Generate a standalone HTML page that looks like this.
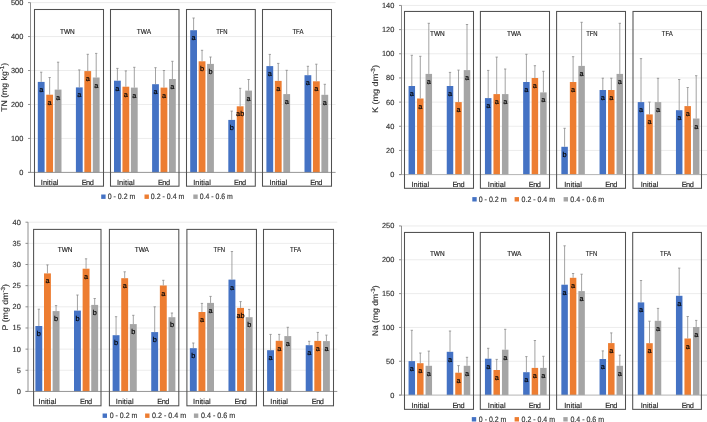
<!DOCTYPE html>
<html><head><meta charset="utf-8"><style>
html,body{margin:0;padding:0;background:#fff;}
body{width:707px;height:422px;overflow:hidden;}
svg{display:block;font-family:"Liberation Sans", sans-serif;will-change:transform;text-rendering:geometricPrecision;}
</style></head><body>
<svg width="707" height="422" viewBox="0 0 707 422">
<rect width="707" height="422" fill="#fff"/>
<line x1="30.5" y1="138.44" x2="335.6" y2="138.44" stroke="#E6E6E6" stroke-width="0.75"/>
<line x1="30.5" y1="104.48" x2="335.6" y2="104.48" stroke="#E6E6E6" stroke-width="0.75"/>
<line x1="30.5" y1="70.52" x2="335.6" y2="70.52" stroke="#E6E6E6" stroke-width="0.75"/>
<line x1="30.5" y1="36.56" x2="335.6" y2="36.56" stroke="#E6E6E6" stroke-width="0.75"/>
<line x1="30.5" y1="2.6" x2="335.6" y2="2.6" stroke="#E6E6E6" stroke-width="0.75"/>
<rect x="37.8" y="81.9" width="6.8" height="90.5" fill="#4472C4"/>
<rect x="46.25" y="94.7" width="6.8" height="77.7" fill="#ED7D31"/>
<rect x="54.7" y="89.6" width="6.8" height="82.8" fill="#A5A5A5"/>
<rect x="75.9" y="87.4" width="6.8" height="85" fill="#4472C4"/>
<rect x="84.35" y="71.1" width="6.8" height="101.3" fill="#ED7D31"/>
<rect x="92.8" y="77.5" width="6.8" height="94.9" fill="#A5A5A5"/>
<rect x="114" y="80.7" width="6.8" height="91.7" fill="#4472C4"/>
<rect x="122.45" y="86.7" width="6.8" height="85.7" fill="#ED7D31"/>
<rect x="130.9" y="87.6" width="6.8" height="84.8" fill="#A5A5A5"/>
<rect x="152.1" y="84.2" width="6.8" height="88.2" fill="#4472C4"/>
<rect x="160.55" y="87.6" width="6.8" height="84.8" fill="#ED7D31"/>
<rect x="169" y="79" width="6.8" height="93.4" fill="#A5A5A5"/>
<rect x="190.2" y="30.2" width="6.8" height="142.2" fill="#4472C4"/>
<rect x="198.65" y="61.3" width="6.8" height="111.1" fill="#ED7D31"/>
<rect x="207.1" y="63.9" width="6.8" height="108.5" fill="#A5A5A5"/>
<rect x="228.3" y="119.9" width="6.8" height="52.5" fill="#4472C4"/>
<rect x="236.75" y="106.3" width="6.8" height="66.1" fill="#ED7D31"/>
<rect x="245.2" y="90.6" width="6.8" height="81.8" fill="#A5A5A5"/>
<rect x="266.4" y="66.1" width="6.8" height="106.3" fill="#4472C4"/>
<rect x="274.85" y="80.9" width="6.8" height="91.5" fill="#ED7D31"/>
<rect x="283.3" y="94.1" width="6.8" height="78.3" fill="#A5A5A5"/>
<rect x="304.5" y="75.2" width="6.8" height="97.2" fill="#4472C4"/>
<rect x="312.95" y="81.3" width="6.8" height="91.1" fill="#ED7D31"/>
<rect x="321.4" y="94.8" width="6.8" height="77.6" fill="#A5A5A5"/>
<line x1="41.2" y1="72.2" x2="41.2" y2="81.9" stroke="#8C8C8C" stroke-width="0.8"/>
<line x1="40.05" y1="72.2" x2="42.35" y2="72.2" stroke="#8C8C8C" stroke-width="0.8"/>
<text x="41.2" y="91.9" font-size="7.3" fill="#000000" stroke="#000000" stroke-width="0.18" text-anchor="middle">a</text>
<line x1="49.65" y1="77.5" x2="49.65" y2="94.7" stroke="#8C8C8C" stroke-width="0.8"/>
<line x1="48.5" y1="77.5" x2="50.8" y2="77.5" stroke="#8C8C8C" stroke-width="0.8"/>
<text x="49.65" y="104.7" font-size="7.3" fill="#000000" stroke="#000000" stroke-width="0.18" text-anchor="middle">a</text>
<line x1="58.1" y1="62.2" x2="58.1" y2="89.6" stroke="#8C8C8C" stroke-width="0.8"/>
<line x1="56.95" y1="62.2" x2="59.25" y2="62.2" stroke="#8C8C8C" stroke-width="0.8"/>
<text x="58.1" y="99.6" font-size="7.3" fill="#000000" stroke="#000000" stroke-width="0.18" text-anchor="middle">a</text>
<line x1="79.3" y1="69.9" x2="79.3" y2="87.4" stroke="#8C8C8C" stroke-width="0.8"/>
<line x1="78.15" y1="69.9" x2="80.45" y2="69.9" stroke="#8C8C8C" stroke-width="0.8"/>
<text x="79.3" y="97.4" font-size="7.3" fill="#000000" stroke="#000000" stroke-width="0.18" text-anchor="middle">a</text>
<line x1="87.75" y1="54.3" x2="87.75" y2="71.1" stroke="#8C8C8C" stroke-width="0.8"/>
<line x1="86.6" y1="54.3" x2="88.9" y2="54.3" stroke="#8C8C8C" stroke-width="0.8"/>
<text x="87.75" y="81.1" font-size="7.3" fill="#000000" stroke="#000000" stroke-width="0.18" text-anchor="middle">a</text>
<line x1="96.2" y1="53.4" x2="96.2" y2="77.5" stroke="#8C8C8C" stroke-width="0.8"/>
<line x1="95.05" y1="53.4" x2="97.35" y2="53.4" stroke="#8C8C8C" stroke-width="0.8"/>
<text x="96.2" y="87.5" font-size="7.3" fill="#000000" stroke="#000000" stroke-width="0.18" text-anchor="middle">a</text>
<line x1="117.4" y1="68.4" x2="117.4" y2="80.7" stroke="#8C8C8C" stroke-width="0.8"/>
<line x1="116.25" y1="68.4" x2="118.55" y2="68.4" stroke="#8C8C8C" stroke-width="0.8"/>
<text x="117.4" y="90.7" font-size="7.3" fill="#000000" stroke="#000000" stroke-width="0.18" text-anchor="middle">a</text>
<line x1="125.85" y1="70.9" x2="125.85" y2="86.7" stroke="#8C8C8C" stroke-width="0.8"/>
<line x1="124.7" y1="70.9" x2="127" y2="70.9" stroke="#8C8C8C" stroke-width="0.8"/>
<text x="125.85" y="96.7" font-size="7.3" fill="#000000" stroke="#000000" stroke-width="0.18" text-anchor="middle">a</text>
<line x1="134.3" y1="67.3" x2="134.3" y2="87.6" stroke="#8C8C8C" stroke-width="0.8"/>
<line x1="133.15" y1="67.3" x2="135.45" y2="67.3" stroke="#8C8C8C" stroke-width="0.8"/>
<text x="134.3" y="97.6" font-size="7.3" fill="#000000" stroke="#000000" stroke-width="0.18" text-anchor="middle">a</text>
<line x1="155.5" y1="67.7" x2="155.5" y2="84.2" stroke="#8C8C8C" stroke-width="0.8"/>
<line x1="154.35" y1="67.7" x2="156.65" y2="67.7" stroke="#8C8C8C" stroke-width="0.8"/>
<text x="155.5" y="94.2" font-size="7.3" fill="#000000" stroke="#000000" stroke-width="0.18" text-anchor="middle">a</text>
<line x1="163.95" y1="70.5" x2="163.95" y2="87.6" stroke="#8C8C8C" stroke-width="0.8"/>
<line x1="162.8" y1="70.5" x2="165.1" y2="70.5" stroke="#8C8C8C" stroke-width="0.8"/>
<text x="163.95" y="97.6" font-size="7.3" fill="#000000" stroke="#000000" stroke-width="0.18" text-anchor="middle">a</text>
<line x1="172.4" y1="61.3" x2="172.4" y2="79" stroke="#8C8C8C" stroke-width="0.8"/>
<line x1="171.25" y1="61.3" x2="173.55" y2="61.3" stroke="#8C8C8C" stroke-width="0.8"/>
<text x="172.4" y="89" font-size="7.3" fill="#000000" stroke="#000000" stroke-width="0.18" text-anchor="middle">a</text>
<line x1="193.6" y1="18" x2="193.6" y2="30.2" stroke="#8C8C8C" stroke-width="0.8"/>
<line x1="192.45" y1="18" x2="194.75" y2="18" stroke="#8C8C8C" stroke-width="0.8"/>
<text x="193.6" y="40.2" font-size="7.3" fill="#000000" stroke="#000000" stroke-width="0.18" text-anchor="middle">a</text>
<line x1="202.05" y1="50.3" x2="202.05" y2="61.3" stroke="#8C8C8C" stroke-width="0.8"/>
<line x1="200.9" y1="50.3" x2="203.2" y2="50.3" stroke="#8C8C8C" stroke-width="0.8"/>
<text x="202.05" y="71.3" font-size="7.3" fill="#000000" stroke="#000000" stroke-width="0.18" text-anchor="middle">b</text>
<line x1="210.5" y1="57" x2="210.5" y2="63.9" stroke="#8C8C8C" stroke-width="0.8"/>
<line x1="209.35" y1="57" x2="211.65" y2="57" stroke="#8C8C8C" stroke-width="0.8"/>
<text x="210.5" y="73.9" font-size="7.3" fill="#000000" stroke="#000000" stroke-width="0.18" text-anchor="middle">b</text>
<line x1="231.7" y1="111.1" x2="231.7" y2="119.9" stroke="#8C8C8C" stroke-width="0.8"/>
<line x1="230.55" y1="111.1" x2="232.85" y2="111.1" stroke="#8C8C8C" stroke-width="0.8"/>
<text x="231.7" y="129.9" font-size="7.3" fill="#000000" stroke="#000000" stroke-width="0.18" text-anchor="middle">b</text>
<line x1="240.15" y1="88.3" x2="240.15" y2="106.3" stroke="#8C8C8C" stroke-width="0.8"/>
<line x1="239" y1="88.3" x2="241.3" y2="88.3" stroke="#8C8C8C" stroke-width="0.8"/>
<text x="240.15" y="116.3" font-size="7.3" fill="#000000" stroke="#000000" stroke-width="0.18" text-anchor="middle">ab</text>
<line x1="248.6" y1="79.5" x2="248.6" y2="90.6" stroke="#8C8C8C" stroke-width="0.8"/>
<line x1="247.45" y1="79.5" x2="249.75" y2="79.5" stroke="#8C8C8C" stroke-width="0.8"/>
<text x="248.6" y="100.6" font-size="7.3" fill="#000000" stroke="#000000" stroke-width="0.18" text-anchor="middle">a</text>
<line x1="269.8" y1="54.4" x2="269.8" y2="66.1" stroke="#8C8C8C" stroke-width="0.8"/>
<line x1="268.65" y1="54.4" x2="270.95" y2="54.4" stroke="#8C8C8C" stroke-width="0.8"/>
<text x="269.8" y="76.1" font-size="7.3" fill="#000000" stroke="#000000" stroke-width="0.18" text-anchor="middle">a</text>
<line x1="278.25" y1="63.4" x2="278.25" y2="80.9" stroke="#8C8C8C" stroke-width="0.8"/>
<line x1="277.1" y1="63.4" x2="279.4" y2="63.4" stroke="#8C8C8C" stroke-width="0.8"/>
<text x="278.25" y="90.9" font-size="7.3" fill="#000000" stroke="#000000" stroke-width="0.18" text-anchor="middle">a</text>
<line x1="286.7" y1="70.3" x2="286.7" y2="94.1" stroke="#8C8C8C" stroke-width="0.8"/>
<line x1="285.55" y1="70.3" x2="287.85" y2="70.3" stroke="#8C8C8C" stroke-width="0.8"/>
<text x="286.7" y="104.1" font-size="7.3" fill="#000000" stroke="#000000" stroke-width="0.18" text-anchor="middle">a</text>
<line x1="307.9" y1="66.3" x2="307.9" y2="75.2" stroke="#8C8C8C" stroke-width="0.8"/>
<line x1="306.75" y1="66.3" x2="309.05" y2="66.3" stroke="#8C8C8C" stroke-width="0.8"/>
<text x="307.9" y="85.2" font-size="7.3" fill="#000000" stroke="#000000" stroke-width="0.18" text-anchor="middle">a</text>
<line x1="316.35" y1="64.2" x2="316.35" y2="81.3" stroke="#8C8C8C" stroke-width="0.8"/>
<line x1="315.2" y1="64.2" x2="317.5" y2="64.2" stroke="#8C8C8C" stroke-width="0.8"/>
<text x="316.35" y="91.3" font-size="7.3" fill="#000000" stroke="#000000" stroke-width="0.18" text-anchor="middle">a</text>
<line x1="324.8" y1="84.3" x2="324.8" y2="94.8" stroke="#8C8C8C" stroke-width="0.8"/>
<line x1="323.65" y1="84.3" x2="325.95" y2="84.3" stroke="#8C8C8C" stroke-width="0.8"/>
<text x="324.8" y="104.8" font-size="7.3" fill="#000000" stroke="#000000" stroke-width="0.18" text-anchor="middle">a</text>
<line x1="30.5" y1="2.6" x2="30.5" y2="172.4" stroke="#858585" stroke-width="0.9"/>
<line x1="28" y1="172.4" x2="335.6" y2="172.4" stroke="#8A8A8A" stroke-width="0.9"/>
<line x1="28" y1="172.4" x2="30.5" y2="172.4" stroke="#858585" stroke-width="0.9"/>
<text x="23.3" y="174.9" font-size="7.4" fill="#333333" stroke="#333333" stroke-width="0.15" text-anchor="end">0</text>
<line x1="28" y1="138.44" x2="30.5" y2="138.44" stroke="#858585" stroke-width="0.9"/>
<text x="23.3" y="140.94" font-size="7.4" fill="#333333" stroke="#333333" stroke-width="0.15" text-anchor="end">100</text>
<line x1="28" y1="104.48" x2="30.5" y2="104.48" stroke="#858585" stroke-width="0.9"/>
<text x="23.3" y="106.98" font-size="7.4" fill="#333333" stroke="#333333" stroke-width="0.15" text-anchor="end">200</text>
<line x1="28" y1="70.52" x2="30.5" y2="70.52" stroke="#858585" stroke-width="0.9"/>
<text x="23.3" y="73.02" font-size="7.4" fill="#333333" stroke="#333333" stroke-width="0.15" text-anchor="end">300</text>
<line x1="28" y1="36.56" x2="30.5" y2="36.56" stroke="#858585" stroke-width="0.9"/>
<text x="23.3" y="39.06" font-size="7.4" fill="#333333" stroke="#333333" stroke-width="0.15" text-anchor="end">400</text>
<line x1="28" y1="2.6" x2="30.5" y2="2.6" stroke="#858585" stroke-width="0.9"/>
<text x="23.3" y="5.1" font-size="7.4" fill="#333333" stroke="#333333" stroke-width="0.15" text-anchor="end">500</text>
<rect x="34.5" y="9.5" width="69" height="176.7" fill="none" stroke="#505050" stroke-width="1.05"/>
<text x="67.4" y="33.8" font-size="7.3" fill="#1a1a1a" stroke="#1a1a1a" stroke-width="0.15" text-anchor="middle" textLength="14.8" lengthAdjust="spacingAndGlyphs">TWN</text>
<rect x="110.5" y="9.5" width="68.5" height="176.7" fill="none" stroke="#505050" stroke-width="1.05"/>
<text x="144" y="33.8" font-size="7.3" fill="#1a1a1a" stroke="#1a1a1a" stroke-width="0.15" text-anchor="middle" textLength="14.3" lengthAdjust="spacingAndGlyphs">TWA</text>
<rect x="186.5" y="9.5" width="68.8" height="176.7" fill="none" stroke="#505050" stroke-width="1.05"/>
<text x="221.9" y="33.9" font-size="7.3" fill="#1a1a1a" stroke="#1a1a1a" stroke-width="0.15" text-anchor="middle" textLength="11.5" lengthAdjust="spacingAndGlyphs">TFN</text>
<rect x="262.5" y="9.5" width="69" height="176.7" fill="none" stroke="#505050" stroke-width="1.05"/>
<text x="297.9" y="33.9" font-size="7.3" fill="#1a1a1a" stroke="#1a1a1a" stroke-width="0.15" text-anchor="middle" textLength="11.0" lengthAdjust="spacingAndGlyphs">TFA</text>
<text x="49.65" y="185.3" font-size="7.4" fill="#262626" stroke="#262626" stroke-width="0.15" text-anchor="middle" textLength="17.7" lengthAdjust="spacing">Initial</text>
<text x="87.75" y="185.3" font-size="7.4" fill="#262626" stroke="#262626" stroke-width="0.15" text-anchor="middle" textLength="12.1" lengthAdjust="spacing">End</text>
<text x="125.85" y="185.3" font-size="7.4" fill="#262626" stroke="#262626" stroke-width="0.15" text-anchor="middle" textLength="17.7" lengthAdjust="spacing">Initial</text>
<text x="163.95" y="185.3" font-size="7.4" fill="#262626" stroke="#262626" stroke-width="0.15" text-anchor="middle" textLength="12.1" lengthAdjust="spacing">End</text>
<text x="202.05" y="185.3" font-size="7.4" fill="#262626" stroke="#262626" stroke-width="0.15" text-anchor="middle" textLength="17.7" lengthAdjust="spacing">Initial</text>
<text x="240.15" y="185.3" font-size="7.4" fill="#262626" stroke="#262626" stroke-width="0.15" text-anchor="middle" textLength="12.1" lengthAdjust="spacing">End</text>
<text x="278.25" y="185.3" font-size="7.4" fill="#262626" stroke="#262626" stroke-width="0.15" text-anchor="middle" textLength="17.7" lengthAdjust="spacing">Initial</text>
<text x="316.35" y="185.3" font-size="7.4" fill="#262626" stroke="#262626" stroke-width="0.15" text-anchor="middle" textLength="12.1" lengthAdjust="spacing">End</text>
<rect x="101.2" y="194.5" width="4.4" height="4.4" fill="#4472C4"/>
<text x="107.7" y="199.2" font-size="7.8" fill="#333333" stroke="#333333" stroke-width="0.15" textLength="27.6" lengthAdjust="spacingAndGlyphs">0 - 0.2 m</text>
<rect x="144.5" y="194.5" width="4.4" height="4.4" fill="#ED7D31"/>
<text x="150.8" y="199.2" font-size="7.8" fill="#333333" stroke="#333333" stroke-width="0.15" textLength="33.7" lengthAdjust="spacingAndGlyphs">0.2 - 0.4 m</text>
<rect x="193.3" y="194.5" width="4.4" height="4.4" fill="#A5A5A5"/>
<text x="199.8" y="199.2" font-size="7.8" fill="#333333" stroke="#333333" stroke-width="0.15" textLength="33.1" lengthAdjust="spacingAndGlyphs">0.4 - 0.6 m</text>
<text transform="translate(6.8 87.3) rotate(-90)" font-size="8.2" fill="#333333" stroke="#333333" stroke-width="0.15" text-anchor="middle" textLength="49" lengthAdjust="spacingAndGlyphs">TN (mg kg<tspan font-size="5.9" dy="-3">-1</tspan><tspan dy="3">)</tspan></text>
<line x1="401.5" y1="150.44" x2="707.5" y2="150.44" stroke="#E6E6E6" stroke-width="0.75"/>
<line x1="401.5" y1="126.27" x2="707.5" y2="126.27" stroke="#E6E6E6" stroke-width="0.75"/>
<line x1="401.5" y1="102.11" x2="707.5" y2="102.11" stroke="#E6E6E6" stroke-width="0.75"/>
<line x1="401.5" y1="77.94" x2="707.5" y2="77.94" stroke="#E6E6E6" stroke-width="0.75"/>
<line x1="401.5" y1="53.78" x2="707.5" y2="53.78" stroke="#E6E6E6" stroke-width="0.75"/>
<line x1="401.5" y1="29.61" x2="707.5" y2="29.61" stroke="#E6E6E6" stroke-width="0.75"/>
<line x1="401.5" y1="5.45" x2="707.5" y2="5.45" stroke="#E6E6E6" stroke-width="0.75"/>
<rect x="408.55" y="86" width="6.5" height="88.6" fill="#4472C4"/>
<rect x="417.05" y="98.5" width="6.5" height="76.1" fill="#ED7D31"/>
<rect x="425.55" y="73.9" width="6.5" height="100.7" fill="#A5A5A5"/>
<rect x="446.75" y="86" width="6.5" height="88.6" fill="#4472C4"/>
<rect x="455.25" y="102.1" width="6.5" height="72.5" fill="#ED7D31"/>
<rect x="463.75" y="70.1" width="6.5" height="104.5" fill="#A5A5A5"/>
<rect x="484.95" y="98.1" width="6.5" height="76.5" fill="#4472C4"/>
<rect x="493.45" y="94.1" width="6.5" height="80.5" fill="#ED7D31"/>
<rect x="501.95" y="94.1" width="6.5" height="80.5" fill="#A5A5A5"/>
<rect x="523.15" y="82" width="6.5" height="92.6" fill="#4472C4"/>
<rect x="531.65" y="78" width="6.5" height="96.6" fill="#ED7D31"/>
<rect x="540.15" y="92.4" width="6.5" height="82.2" fill="#A5A5A5"/>
<rect x="561.35" y="146.8" width="6.5" height="27.8" fill="#4472C4"/>
<rect x="569.85" y="82" width="6.5" height="92.6" fill="#ED7D31"/>
<rect x="578.35" y="65.9" width="6.5" height="108.7" fill="#A5A5A5"/>
<rect x="599.55" y="90" width="6.5" height="84.6" fill="#4472C4"/>
<rect x="608.05" y="90" width="6.5" height="84.6" fill="#ED7D31"/>
<rect x="616.55" y="73.9" width="6.5" height="100.7" fill="#A5A5A5"/>
<rect x="637.75" y="102.1" width="6.5" height="72.5" fill="#4472C4"/>
<rect x="646.25" y="114.4" width="6.5" height="60.2" fill="#ED7D31"/>
<rect x="654.75" y="102.1" width="6.5" height="72.5" fill="#A5A5A5"/>
<rect x="675.95" y="110.2" width="6.5" height="64.4" fill="#4472C4"/>
<rect x="684.45" y="106.1" width="6.5" height="68.5" fill="#ED7D31"/>
<rect x="692.95" y="118.5" width="6.5" height="56.1" fill="#A5A5A5"/>
<line x1="411.8" y1="55.3" x2="411.8" y2="86" stroke="#8C8C8C" stroke-width="0.8"/>
<line x1="410.65" y1="55.3" x2="412.95" y2="55.3" stroke="#8C8C8C" stroke-width="0.8"/>
<text x="411.8" y="96" font-size="7.3" fill="#000000" stroke="#000000" stroke-width="0.18" text-anchor="middle">a</text>
<line x1="420.3" y1="56.3" x2="420.3" y2="98.5" stroke="#8C8C8C" stroke-width="0.8"/>
<line x1="419.15" y1="56.3" x2="421.45" y2="56.3" stroke="#8C8C8C" stroke-width="0.8"/>
<text x="420.3" y="108.5" font-size="7.3" fill="#000000" stroke="#000000" stroke-width="0.18" text-anchor="middle">a</text>
<line x1="428.8" y1="23.3" x2="428.8" y2="73.9" stroke="#8C8C8C" stroke-width="0.8"/>
<line x1="427.65" y1="23.3" x2="429.95" y2="23.3" stroke="#8C8C8C" stroke-width="0.8"/>
<text x="428.8" y="83.9" font-size="7.3" fill="#000000" stroke="#000000" stroke-width="0.18" text-anchor="middle">a</text>
<line x1="450" y1="72.4" x2="450" y2="86" stroke="#8C8C8C" stroke-width="0.8"/>
<line x1="448.85" y1="72.4" x2="451.15" y2="72.4" stroke="#8C8C8C" stroke-width="0.8"/>
<text x="450" y="96" font-size="7.3" fill="#000000" stroke="#000000" stroke-width="0.18" text-anchor="middle">a</text>
<line x1="458.5" y1="70.1" x2="458.5" y2="102.1" stroke="#8C8C8C" stroke-width="0.8"/>
<line x1="457.35" y1="70.1" x2="459.65" y2="70.1" stroke="#8C8C8C" stroke-width="0.8"/>
<text x="458.5" y="112.1" font-size="7.3" fill="#000000" stroke="#000000" stroke-width="0.18" text-anchor="middle">a</text>
<line x1="467" y1="24.5" x2="467" y2="70.1" stroke="#8C8C8C" stroke-width="0.8"/>
<line x1="465.85" y1="24.5" x2="468.15" y2="24.5" stroke="#8C8C8C" stroke-width="0.8"/>
<text x="467" y="80.1" font-size="7.3" fill="#000000" stroke="#000000" stroke-width="0.18" text-anchor="middle">a</text>
<line x1="488.2" y1="70.4" x2="488.2" y2="98.1" stroke="#8C8C8C" stroke-width="0.8"/>
<line x1="487.05" y1="70.4" x2="489.35" y2="70.4" stroke="#8C8C8C" stroke-width="0.8"/>
<text x="488.2" y="108.1" font-size="7.3" fill="#000000" stroke="#000000" stroke-width="0.18" text-anchor="middle">a</text>
<line x1="496.7" y1="57.1" x2="496.7" y2="94.1" stroke="#8C8C8C" stroke-width="0.8"/>
<line x1="495.55" y1="57.1" x2="497.85" y2="57.1" stroke="#8C8C8C" stroke-width="0.8"/>
<text x="496.7" y="104.1" font-size="7.3" fill="#000000" stroke="#000000" stroke-width="0.18" text-anchor="middle">a</text>
<line x1="505.2" y1="69" x2="505.2" y2="94.1" stroke="#8C8C8C" stroke-width="0.8"/>
<line x1="504.05" y1="69" x2="506.35" y2="69" stroke="#8C8C8C" stroke-width="0.8"/>
<text x="505.2" y="104.1" font-size="7.3" fill="#000000" stroke="#000000" stroke-width="0.18" text-anchor="middle">a</text>
<line x1="526.4" y1="54.3" x2="526.4" y2="82" stroke="#8C8C8C" stroke-width="0.8"/>
<line x1="525.25" y1="54.3" x2="527.55" y2="54.3" stroke="#8C8C8C" stroke-width="0.8"/>
<text x="526.4" y="92" font-size="7.3" fill="#000000" stroke="#000000" stroke-width="0.18" text-anchor="middle">a</text>
<line x1="534.9" y1="65.7" x2="534.9" y2="78" stroke="#8C8C8C" stroke-width="0.8"/>
<line x1="533.75" y1="65.7" x2="536.05" y2="65.7" stroke="#8C8C8C" stroke-width="0.8"/>
<text x="534.9" y="88" font-size="7.3" fill="#000000" stroke="#000000" stroke-width="0.18" text-anchor="middle">a</text>
<line x1="543.4" y1="71.3" x2="543.4" y2="92.4" stroke="#8C8C8C" stroke-width="0.8"/>
<line x1="542.25" y1="71.3" x2="544.55" y2="71.3" stroke="#8C8C8C" stroke-width="0.8"/>
<text x="543.4" y="102.4" font-size="7.3" fill="#000000" stroke="#000000" stroke-width="0.18" text-anchor="middle">a</text>
<line x1="564.6" y1="128.3" x2="564.6" y2="146.8" stroke="#8C8C8C" stroke-width="0.8"/>
<line x1="563.45" y1="128.3" x2="565.75" y2="128.3" stroke="#8C8C8C" stroke-width="0.8"/>
<text x="564.6" y="156.8" font-size="7.3" fill="#000000" stroke="#000000" stroke-width="0.18" text-anchor="middle">b</text>
<line x1="573.1" y1="56.7" x2="573.1" y2="82" stroke="#8C8C8C" stroke-width="0.8"/>
<line x1="571.95" y1="56.7" x2="574.25" y2="56.7" stroke="#8C8C8C" stroke-width="0.8"/>
<text x="573.1" y="92" font-size="7.3" fill="#000000" stroke="#000000" stroke-width="0.18" text-anchor="middle">a</text>
<line x1="581.6" y1="22.3" x2="581.6" y2="65.9" stroke="#8C8C8C" stroke-width="0.8"/>
<line x1="580.45" y1="22.3" x2="582.75" y2="22.3" stroke="#8C8C8C" stroke-width="0.8"/>
<text x="581.6" y="75.9" font-size="7.3" fill="#000000" stroke="#000000" stroke-width="0.18" text-anchor="middle">a</text>
<line x1="602.8" y1="78.2" x2="602.8" y2="90" stroke="#8C8C8C" stroke-width="0.8"/>
<line x1="601.65" y1="78.2" x2="603.95" y2="78.2" stroke="#8C8C8C" stroke-width="0.8"/>
<text x="602.8" y="100" font-size="7.3" fill="#000000" stroke="#000000" stroke-width="0.18" text-anchor="middle">a</text>
<line x1="611.3" y1="78.2" x2="611.3" y2="90" stroke="#8C8C8C" stroke-width="0.8"/>
<line x1="610.15" y1="78.2" x2="612.45" y2="78.2" stroke="#8C8C8C" stroke-width="0.8"/>
<text x="611.3" y="100" font-size="7.3" fill="#000000" stroke="#000000" stroke-width="0.18" text-anchor="middle">a</text>
<line x1="619.8" y1="23.3" x2="619.8" y2="73.9" stroke="#8C8C8C" stroke-width="0.8"/>
<line x1="618.65" y1="23.3" x2="620.95" y2="23.3" stroke="#8C8C8C" stroke-width="0.8"/>
<text x="619.8" y="83.9" font-size="7.3" fill="#000000" stroke="#000000" stroke-width="0.18" text-anchor="middle">a</text>
<line x1="641" y1="58.6" x2="641" y2="102.1" stroke="#8C8C8C" stroke-width="0.8"/>
<line x1="639.85" y1="58.6" x2="642.15" y2="58.6" stroke="#8C8C8C" stroke-width="0.8"/>
<text x="641" y="112.1" font-size="7.3" fill="#000000" stroke="#000000" stroke-width="0.18" text-anchor="middle">a</text>
<line x1="649.5" y1="102.1" x2="649.5" y2="114.4" stroke="#8C8C8C" stroke-width="0.8"/>
<line x1="648.35" y1="102.1" x2="650.65" y2="102.1" stroke="#8C8C8C" stroke-width="0.8"/>
<text x="649.5" y="124.4" font-size="7.3" fill="#000000" stroke="#000000" stroke-width="0.18" text-anchor="middle">a</text>
<line x1="658" y1="78.3" x2="658" y2="102.1" stroke="#8C8C8C" stroke-width="0.8"/>
<line x1="656.85" y1="78.3" x2="659.15" y2="78.3" stroke="#8C8C8C" stroke-width="0.8"/>
<text x="658" y="112.1" font-size="7.3" fill="#000000" stroke="#000000" stroke-width="0.18" text-anchor="middle">a</text>
<line x1="679.2" y1="79.5" x2="679.2" y2="110.2" stroke="#8C8C8C" stroke-width="0.8"/>
<line x1="678.05" y1="79.5" x2="680.35" y2="79.5" stroke="#8C8C8C" stroke-width="0.8"/>
<text x="679.2" y="120.2" font-size="7.3" fill="#000000" stroke="#000000" stroke-width="0.18" text-anchor="middle">a</text>
<line x1="687.7" y1="87.5" x2="687.7" y2="106.1" stroke="#8C8C8C" stroke-width="0.8"/>
<line x1="686.55" y1="87.5" x2="688.85" y2="87.5" stroke="#8C8C8C" stroke-width="0.8"/>
<text x="687.7" y="116.1" font-size="7.3" fill="#000000" stroke="#000000" stroke-width="0.18" text-anchor="middle">a</text>
<line x1="696.2" y1="75.7" x2="696.2" y2="118.5" stroke="#8C8C8C" stroke-width="0.8"/>
<line x1="695.05" y1="75.7" x2="697.35" y2="75.7" stroke="#8C8C8C" stroke-width="0.8"/>
<text x="696.2" y="128.5" font-size="7.3" fill="#000000" stroke="#000000" stroke-width="0.18" text-anchor="middle">a</text>
<line x1="401.5" y1="5.45" x2="401.5" y2="174.6" stroke="#858585" stroke-width="0.9"/>
<line x1="399" y1="174.6" x2="707.5" y2="174.6" stroke="#ABABAB" stroke-width="0.9"/>
<line x1="399" y1="174.6" x2="401.5" y2="174.6" stroke="#858585" stroke-width="0.9"/>
<text x="394.3" y="177.1" font-size="7.4" fill="#333333" stroke="#333333" stroke-width="0.15" text-anchor="end">0</text>
<line x1="399" y1="150.44" x2="401.5" y2="150.44" stroke="#858585" stroke-width="0.9"/>
<text x="394.3" y="152.94" font-size="7.4" fill="#333333" stroke="#333333" stroke-width="0.15" text-anchor="end">20</text>
<line x1="399" y1="126.27" x2="401.5" y2="126.27" stroke="#858585" stroke-width="0.9"/>
<text x="394.3" y="128.77" font-size="7.4" fill="#333333" stroke="#333333" stroke-width="0.15" text-anchor="end">40</text>
<line x1="399" y1="102.11" x2="401.5" y2="102.11" stroke="#858585" stroke-width="0.9"/>
<text x="394.3" y="104.61" font-size="7.4" fill="#333333" stroke="#333333" stroke-width="0.15" text-anchor="end">60</text>
<line x1="399" y1="77.94" x2="401.5" y2="77.94" stroke="#858585" stroke-width="0.9"/>
<text x="394.3" y="80.44" font-size="7.4" fill="#333333" stroke="#333333" stroke-width="0.15" text-anchor="end">80</text>
<line x1="399" y1="53.78" x2="401.5" y2="53.78" stroke="#858585" stroke-width="0.9"/>
<text x="394.3" y="56.28" font-size="7.4" fill="#333333" stroke="#333333" stroke-width="0.15" text-anchor="end">100</text>
<line x1="399" y1="29.61" x2="401.5" y2="29.61" stroke="#858585" stroke-width="0.9"/>
<text x="394.3" y="32.11" font-size="7.4" fill="#333333" stroke="#333333" stroke-width="0.15" text-anchor="end">120</text>
<line x1="399" y1="5.45" x2="401.5" y2="5.45" stroke="#858585" stroke-width="0.9"/>
<text x="394.3" y="7.95" font-size="7.4" fill="#333333" stroke="#333333" stroke-width="0.15" text-anchor="end">140</text>
<rect x="404.5" y="11.45" width="69" height="176.85" fill="none" stroke="#505050" stroke-width="1.05"/>
<text x="437.4" y="35.8" font-size="7.3" fill="#1a1a1a" stroke="#1a1a1a" stroke-width="0.15" text-anchor="middle" textLength="14.8" lengthAdjust="spacingAndGlyphs">TWN</text>
<rect x="480.4" y="11.45" width="69.1" height="176.85" fill="none" stroke="#505050" stroke-width="1.05"/>
<text x="514.1" y="36" font-size="7.3" fill="#1a1a1a" stroke="#1a1a1a" stroke-width="0.15" text-anchor="middle" textLength="14.3" lengthAdjust="spacingAndGlyphs">TWA</text>
<rect x="556.6" y="11.45" width="68.9" height="176.85" fill="none" stroke="#505050" stroke-width="1.05"/>
<text x="591.9" y="35.5" font-size="7.3" fill="#1a1a1a" stroke="#1a1a1a" stroke-width="0.15" text-anchor="middle" textLength="11.5" lengthAdjust="spacingAndGlyphs">TFN</text>
<rect x="633" y="11.45" width="68.5" height="176.85" fill="none" stroke="#505050" stroke-width="1.05"/>
<text x="667.3" y="36" font-size="7.3" fill="#1a1a1a" stroke="#1a1a1a" stroke-width="0.15" text-anchor="middle" textLength="11.0" lengthAdjust="spacingAndGlyphs">TFA</text>
<text x="420.3" y="186.9" font-size="7.4" fill="#262626" stroke="#262626" stroke-width="0.15" text-anchor="middle" textLength="17.7" lengthAdjust="spacing">Initial</text>
<text x="458.5" y="186.9" font-size="7.4" fill="#262626" stroke="#262626" stroke-width="0.15" text-anchor="middle" textLength="12.1" lengthAdjust="spacing">End</text>
<text x="496.7" y="186.9" font-size="7.4" fill="#262626" stroke="#262626" stroke-width="0.15" text-anchor="middle" textLength="17.7" lengthAdjust="spacing">Initial</text>
<text x="534.9" y="186.9" font-size="7.4" fill="#262626" stroke="#262626" stroke-width="0.15" text-anchor="middle" textLength="12.1" lengthAdjust="spacing">End</text>
<text x="573.1" y="186.9" font-size="7.4" fill="#262626" stroke="#262626" stroke-width="0.15" text-anchor="middle" textLength="17.7" lengthAdjust="spacing">Initial</text>
<text x="611.3" y="186.9" font-size="7.4" fill="#262626" stroke="#262626" stroke-width="0.15" text-anchor="middle" textLength="12.1" lengthAdjust="spacing">End</text>
<text x="649.5" y="186.9" font-size="7.4" fill="#262626" stroke="#262626" stroke-width="0.15" text-anchor="middle" textLength="17.7" lengthAdjust="spacing">Initial</text>
<text x="687.7" y="186.9" font-size="7.4" fill="#262626" stroke="#262626" stroke-width="0.15" text-anchor="middle" textLength="12.1" lengthAdjust="spacing">End</text>
<rect x="472.3" y="197.1" width="4.4" height="4.4" fill="#4472C4"/>
<text x="478.7" y="201.8" font-size="7.8" fill="#333333" stroke="#333333" stroke-width="0.15" textLength="27.9" lengthAdjust="spacingAndGlyphs">0 - 0.2 m</text>
<rect x="514.6" y="197.1" width="4.4" height="4.4" fill="#ED7D31"/>
<text x="521.6" y="201.8" font-size="7.8" fill="#333333" stroke="#333333" stroke-width="0.15" textLength="33.4" lengthAdjust="spacingAndGlyphs">0.2 - 0.4 m</text>
<rect x="563.6" y="197.1" width="4.4" height="4.4" fill="#A5A5A5"/>
<text x="570.2" y="201.8" font-size="7.8" fill="#333333" stroke="#333333" stroke-width="0.15" textLength="34.1" lengthAdjust="spacingAndGlyphs">0.4 - 0.6 m</text>
<text transform="translate(378 89) rotate(-90)" font-size="8.2" fill="#333333" stroke="#333333" stroke-width="0.15" text-anchor="middle" textLength="48" lengthAdjust="spacingAndGlyphs">K (mg dm<tspan font-size="5.9" dy="-3">-3</tspan><tspan dy="3">)</tspan></text>
<line x1="28" y1="370.29" x2="337.3" y2="370.29" stroke="#E6E6E6" stroke-width="0.75"/>
<line x1="28" y1="349.14" x2="337.3" y2="349.14" stroke="#E6E6E6" stroke-width="0.75"/>
<line x1="28" y1="327.98" x2="337.3" y2="327.98" stroke="#E6E6E6" stroke-width="0.75"/>
<line x1="28" y1="306.82" x2="337.3" y2="306.82" stroke="#E6E6E6" stroke-width="0.75"/>
<line x1="28" y1="285.67" x2="337.3" y2="285.67" stroke="#E6E6E6" stroke-width="0.75"/>
<line x1="28" y1="264.51" x2="337.3" y2="264.51" stroke="#E6E6E6" stroke-width="0.75"/>
<line x1="28" y1="243.36" x2="337.3" y2="243.36" stroke="#E6E6E6" stroke-width="0.75"/>
<line x1="28" y1="222.2" x2="337.3" y2="222.2" stroke="#E6E6E6" stroke-width="0.75"/>
<rect x="35.38" y="326" width="6.9" height="65.45" fill="#4472C4"/>
<rect x="44" y="273.4" width="6.9" height="118.05" fill="#ED7D31"/>
<rect x="52.62" y="311.1" width="6.9" height="80.35" fill="#A5A5A5"/>
<rect x="74" y="310.6" width="6.9" height="80.85" fill="#4472C4"/>
<rect x="82.62" y="268.7" width="6.9" height="122.75" fill="#ED7D31"/>
<rect x="91.24" y="304.9" width="6.9" height="86.55" fill="#A5A5A5"/>
<rect x="112.62" y="335.2" width="6.9" height="56.25" fill="#4472C4"/>
<rect x="121.24" y="278.2" width="6.9" height="113.25" fill="#ED7D31"/>
<rect x="129.86" y="324.1" width="6.9" height="67.35" fill="#A5A5A5"/>
<rect x="151.24" y="332.1" width="6.9" height="59.35" fill="#4472C4"/>
<rect x="159.86" y="285.5" width="6.9" height="105.95" fill="#ED7D31"/>
<rect x="168.48" y="317.2" width="6.9" height="74.25" fill="#A5A5A5"/>
<rect x="189.86" y="348.2" width="6.9" height="43.25" fill="#4472C4"/>
<rect x="198.48" y="312" width="6.9" height="79.45" fill="#ED7D31"/>
<rect x="207.1" y="302.9" width="6.9" height="88.55" fill="#A5A5A5"/>
<rect x="228.48" y="279.6" width="6.9" height="111.85" fill="#4472C4"/>
<rect x="237.1" y="307.9" width="6.9" height="83.55" fill="#ED7D31"/>
<rect x="245.72" y="317.2" width="6.9" height="74.25" fill="#A5A5A5"/>
<rect x="267.1" y="350.2" width="6.9" height="41.25" fill="#4472C4"/>
<rect x="275.72" y="340.8" width="6.9" height="50.65" fill="#ED7D31"/>
<rect x="284.34" y="336.1" width="6.9" height="55.35" fill="#A5A5A5"/>
<rect x="305.72" y="345.2" width="6.9" height="46.25" fill="#4472C4"/>
<rect x="314.34" y="340.9" width="6.9" height="50.55" fill="#ED7D31"/>
<rect x="322.96" y="341.1" width="6.9" height="50.35" fill="#A5A5A5"/>
<line x1="38.83" y1="309.2" x2="38.83" y2="326" stroke="#8C8C8C" stroke-width="0.8"/>
<line x1="37.68" y1="309.2" x2="39.98" y2="309.2" stroke="#8C8C8C" stroke-width="0.8"/>
<text x="38.83" y="336" font-size="7.3" fill="#000000" stroke="#000000" stroke-width="0.18" text-anchor="middle">b</text>
<line x1="47.45" y1="264.9" x2="47.45" y2="273.4" stroke="#8C8C8C" stroke-width="0.8"/>
<line x1="46.3" y1="264.9" x2="48.6" y2="264.9" stroke="#8C8C8C" stroke-width="0.8"/>
<text x="47.45" y="283.4" font-size="7.3" fill="#000000" stroke="#000000" stroke-width="0.18" text-anchor="middle">a</text>
<line x1="56.07" y1="305.6" x2="56.07" y2="311.1" stroke="#8C8C8C" stroke-width="0.8"/>
<line x1="54.92" y1="305.6" x2="57.22" y2="305.6" stroke="#8C8C8C" stroke-width="0.8"/>
<text x="56.07" y="321.1" font-size="7.3" fill="#000000" stroke="#000000" stroke-width="0.18" text-anchor="middle">b</text>
<line x1="77.45" y1="295" x2="77.45" y2="310.6" stroke="#8C8C8C" stroke-width="0.8"/>
<line x1="76.3" y1="295" x2="78.6" y2="295" stroke="#8C8C8C" stroke-width="0.8"/>
<text x="77.45" y="320.6" font-size="7.3" fill="#000000" stroke="#000000" stroke-width="0.18" text-anchor="middle">b</text>
<line x1="86.07" y1="258.8" x2="86.07" y2="268.7" stroke="#8C8C8C" stroke-width="0.8"/>
<line x1="84.92" y1="258.8" x2="87.22" y2="258.8" stroke="#8C8C8C" stroke-width="0.8"/>
<text x="86.07" y="278.7" font-size="7.3" fill="#000000" stroke="#000000" stroke-width="0.18" text-anchor="middle">a</text>
<line x1="94.69" y1="298.5" x2="94.69" y2="304.9" stroke="#8C8C8C" stroke-width="0.8"/>
<line x1="93.54" y1="298.5" x2="95.84" y2="298.5" stroke="#8C8C8C" stroke-width="0.8"/>
<text x="94.69" y="314.9" font-size="7.3" fill="#000000" stroke="#000000" stroke-width="0.18" text-anchor="middle">b</text>
<line x1="116.07" y1="316.7" x2="116.07" y2="335.2" stroke="#8C8C8C" stroke-width="0.8"/>
<line x1="114.92" y1="316.7" x2="117.22" y2="316.7" stroke="#8C8C8C" stroke-width="0.8"/>
<text x="116.07" y="345.2" font-size="7.3" fill="#000000" stroke="#000000" stroke-width="0.18" text-anchor="middle">b</text>
<line x1="124.69" y1="271.8" x2="124.69" y2="278.2" stroke="#8C8C8C" stroke-width="0.8"/>
<line x1="123.54" y1="271.8" x2="125.84" y2="271.8" stroke="#8C8C8C" stroke-width="0.8"/>
<text x="124.69" y="288.2" font-size="7.3" fill="#000000" stroke="#000000" stroke-width="0.18" text-anchor="middle">a</text>
<line x1="133.31" y1="315.3" x2="133.31" y2="324.1" stroke="#8C8C8C" stroke-width="0.8"/>
<line x1="132.16" y1="315.3" x2="134.46" y2="315.3" stroke="#8C8C8C" stroke-width="0.8"/>
<text x="133.31" y="334.1" font-size="7.3" fill="#000000" stroke="#000000" stroke-width="0.18" text-anchor="middle">b</text>
<line x1="154.69" y1="306.8" x2="154.69" y2="332.1" stroke="#8C8C8C" stroke-width="0.8"/>
<line x1="153.54" y1="306.8" x2="155.84" y2="306.8" stroke="#8C8C8C" stroke-width="0.8"/>
<text x="154.69" y="342.1" font-size="7.3" fill="#000000" stroke="#000000" stroke-width="0.18" text-anchor="middle">b</text>
<line x1="163.31" y1="280.3" x2="163.31" y2="285.5" stroke="#8C8C8C" stroke-width="0.8"/>
<line x1="162.16" y1="280.3" x2="164.46" y2="280.3" stroke="#8C8C8C" stroke-width="0.8"/>
<text x="163.31" y="295.5" font-size="7.3" fill="#000000" stroke="#000000" stroke-width="0.18" text-anchor="middle">a</text>
<line x1="171.93" y1="313" x2="171.93" y2="317.2" stroke="#8C8C8C" stroke-width="0.8"/>
<line x1="170.78" y1="313" x2="173.08" y2="313" stroke="#8C8C8C" stroke-width="0.8"/>
<text x="171.93" y="327.2" font-size="7.3" fill="#000000" stroke="#000000" stroke-width="0.18" text-anchor="middle">b</text>
<line x1="193.31" y1="343" x2="193.31" y2="348.2" stroke="#8C8C8C" stroke-width="0.8"/>
<line x1="192.16" y1="343" x2="194.46" y2="343" stroke="#8C8C8C" stroke-width="0.8"/>
<text x="193.31" y="358.2" font-size="7.3" fill="#000000" stroke="#000000" stroke-width="0.18" text-anchor="middle">b</text>
<line x1="201.93" y1="303.4" x2="201.93" y2="312" stroke="#8C8C8C" stroke-width="0.8"/>
<line x1="200.78" y1="303.4" x2="203.08" y2="303.4" stroke="#8C8C8C" stroke-width="0.8"/>
<text x="201.93" y="322" font-size="7.3" fill="#000000" stroke="#000000" stroke-width="0.18" text-anchor="middle">a</text>
<line x1="210.55" y1="296.4" x2="210.55" y2="302.9" stroke="#8C8C8C" stroke-width="0.8"/>
<line x1="209.4" y1="296.4" x2="211.7" y2="296.4" stroke="#8C8C8C" stroke-width="0.8"/>
<text x="210.55" y="312.9" font-size="7.3" fill="#000000" stroke="#000000" stroke-width="0.18" text-anchor="middle">a</text>
<line x1="231.93" y1="251.5" x2="231.93" y2="279.6" stroke="#8C8C8C" stroke-width="0.8"/>
<line x1="230.78" y1="251.5" x2="233.08" y2="251.5" stroke="#8C8C8C" stroke-width="0.8"/>
<text x="231.93" y="289.6" font-size="7.3" fill="#000000" stroke="#000000" stroke-width="0.18" text-anchor="middle">a</text>
<line x1="240.55" y1="301.6" x2="240.55" y2="307.9" stroke="#8C8C8C" stroke-width="0.8"/>
<line x1="239.4" y1="301.6" x2="241.7" y2="301.6" stroke="#8C8C8C" stroke-width="0.8"/>
<text x="240.55" y="317.9" font-size="7.3" fill="#000000" stroke="#000000" stroke-width="0.18" text-anchor="middle">ab</text>
<line x1="249.17" y1="309.4" x2="249.17" y2="317.2" stroke="#8C8C8C" stroke-width="0.8"/>
<line x1="248.02" y1="309.4" x2="250.32" y2="309.4" stroke="#8C8C8C" stroke-width="0.8"/>
<text x="249.17" y="327.2" font-size="7.3" fill="#000000" stroke="#000000" stroke-width="0.18" text-anchor="middle">b</text>
<line x1="270.55" y1="334.4" x2="270.55" y2="350.2" stroke="#8C8C8C" stroke-width="0.8"/>
<line x1="269.4" y1="334.4" x2="271.7" y2="334.4" stroke="#8C8C8C" stroke-width="0.8"/>
<text x="270.55" y="360.2" font-size="7.3" fill="#000000" stroke="#000000" stroke-width="0.18" text-anchor="middle">a</text>
<line x1="279.17" y1="334.4" x2="279.17" y2="340.8" stroke="#8C8C8C" stroke-width="0.8"/>
<line x1="278.02" y1="334.4" x2="280.32" y2="334.4" stroke="#8C8C8C" stroke-width="0.8"/>
<text x="279.17" y="350.8" font-size="7.3" fill="#000000" stroke="#000000" stroke-width="0.18" text-anchor="middle">a</text>
<line x1="287.79" y1="327.3" x2="287.79" y2="336.1" stroke="#8C8C8C" stroke-width="0.8"/>
<line x1="286.64" y1="327.3" x2="288.94" y2="327.3" stroke="#8C8C8C" stroke-width="0.8"/>
<text x="287.79" y="346.1" font-size="7.3" fill="#000000" stroke="#000000" stroke-width="0.18" text-anchor="middle">a</text>
<line x1="309.17" y1="341.3" x2="309.17" y2="345.2" stroke="#8C8C8C" stroke-width="0.8"/>
<line x1="308.02" y1="341.3" x2="310.32" y2="341.3" stroke="#8C8C8C" stroke-width="0.8"/>
<text x="309.17" y="355.2" font-size="7.3" fill="#000000" stroke="#000000" stroke-width="0.18" text-anchor="middle">a</text>
<line x1="317.79" y1="332.4" x2="317.79" y2="340.9" stroke="#8C8C8C" stroke-width="0.8"/>
<line x1="316.64" y1="332.4" x2="318.94" y2="332.4" stroke="#8C8C8C" stroke-width="0.8"/>
<text x="317.79" y="350.9" font-size="7.3" fill="#000000" stroke="#000000" stroke-width="0.18" text-anchor="middle">a</text>
<line x1="326.41" y1="335.1" x2="326.41" y2="341.1" stroke="#8C8C8C" stroke-width="0.8"/>
<line x1="325.26" y1="335.1" x2="327.56" y2="335.1" stroke="#8C8C8C" stroke-width="0.8"/>
<text x="326.41" y="351.1" font-size="7.3" fill="#000000" stroke="#000000" stroke-width="0.18" text-anchor="middle">a</text>
<line x1="28" y1="222.2" x2="28" y2="391.45" stroke="#858585" stroke-width="0.9"/>
<line x1="25.5" y1="391.45" x2="337.3" y2="391.45" stroke="#8A8A8A" stroke-width="0.9"/>
<line x1="25.5" y1="391.45" x2="28" y2="391.45" stroke="#858585" stroke-width="0.9"/>
<text x="20.8" y="393.95" font-size="7.4" fill="#333333" stroke="#333333" stroke-width="0.15" text-anchor="end">0</text>
<line x1="25.5" y1="370.29" x2="28" y2="370.29" stroke="#858585" stroke-width="0.9"/>
<text x="20.8" y="372.79" font-size="7.4" fill="#333333" stroke="#333333" stroke-width="0.15" text-anchor="end">5</text>
<line x1="25.5" y1="349.14" x2="28" y2="349.14" stroke="#858585" stroke-width="0.9"/>
<text x="20.8" y="351.64" font-size="7.4" fill="#333333" stroke="#333333" stroke-width="0.15" text-anchor="end">10</text>
<line x1="25.5" y1="327.98" x2="28" y2="327.98" stroke="#858585" stroke-width="0.9"/>
<text x="20.8" y="330.48" font-size="7.4" fill="#333333" stroke="#333333" stroke-width="0.15" text-anchor="end">15</text>
<line x1="25.5" y1="306.82" x2="28" y2="306.82" stroke="#858585" stroke-width="0.9"/>
<text x="20.8" y="309.32" font-size="7.4" fill="#333333" stroke="#333333" stroke-width="0.15" text-anchor="end">20</text>
<line x1="25.5" y1="285.67" x2="28" y2="285.67" stroke="#858585" stroke-width="0.9"/>
<text x="20.8" y="288.17" font-size="7.4" fill="#333333" stroke="#333333" stroke-width="0.15" text-anchor="end">25</text>
<line x1="25.5" y1="264.51" x2="28" y2="264.51" stroke="#858585" stroke-width="0.9"/>
<text x="20.8" y="267.01" font-size="7.4" fill="#333333" stroke="#333333" stroke-width="0.15" text-anchor="end">30</text>
<line x1="25.5" y1="243.36" x2="28" y2="243.36" stroke="#858585" stroke-width="0.9"/>
<text x="20.8" y="245.86" font-size="7.4" fill="#333333" stroke="#333333" stroke-width="0.15" text-anchor="end">35</text>
<line x1="25.5" y1="222.2" x2="28" y2="222.2" stroke="#858585" stroke-width="0.9"/>
<text x="20.8" y="224.7" font-size="7.4" fill="#333333" stroke="#333333" stroke-width="0.15" text-anchor="end">40</text>
<rect x="33.6" y="229.4" width="67.4" height="176.4" fill="none" stroke="#505050" stroke-width="1.05"/>
<text x="65.1" y="252.3" font-size="7.3" fill="#1a1a1a" stroke="#1a1a1a" stroke-width="0.15" text-anchor="middle" textLength="14.8" lengthAdjust="spacingAndGlyphs">TWN</text>
<rect x="109.4" y="229.4" width="69.4" height="176.4" fill="none" stroke="#505050" stroke-width="1.05"/>
<text x="141.8" y="252.3" font-size="7.3" fill="#1a1a1a" stroke="#1a1a1a" stroke-width="0.15" text-anchor="middle" textLength="14.3" lengthAdjust="spacingAndGlyphs">TWA</text>
<rect x="186.9" y="229.4" width="69.55" height="176.4" fill="none" stroke="#505050" stroke-width="1.05"/>
<text x="219.3" y="252.2" font-size="7.3" fill="#1a1a1a" stroke="#1a1a1a" stroke-width="0.15" text-anchor="middle" textLength="11.5" lengthAdjust="spacingAndGlyphs">TFN</text>
<rect x="263.5" y="229.4" width="70" height="176.4" fill="none" stroke="#505050" stroke-width="1.05"/>
<text x="295.5" y="252.3" font-size="7.3" fill="#1a1a1a" stroke="#1a1a1a" stroke-width="0.15" text-anchor="middle" textLength="11.0" lengthAdjust="spacingAndGlyphs">TFA</text>
<text x="47.45" y="404.3" font-size="7.4" fill="#262626" stroke="#262626" stroke-width="0.15" text-anchor="middle" textLength="17.7" lengthAdjust="spacing">Initial</text>
<text x="86.07" y="404.3" font-size="7.4" fill="#262626" stroke="#262626" stroke-width="0.15" text-anchor="middle" textLength="12.1" lengthAdjust="spacing">End</text>
<text x="124.69" y="404.3" font-size="7.4" fill="#262626" stroke="#262626" stroke-width="0.15" text-anchor="middle" textLength="17.7" lengthAdjust="spacing">Initial</text>
<text x="163.31" y="404.3" font-size="7.4" fill="#262626" stroke="#262626" stroke-width="0.15" text-anchor="middle" textLength="12.1" lengthAdjust="spacing">End</text>
<text x="201.93" y="404.3" font-size="7.4" fill="#262626" stroke="#262626" stroke-width="0.15" text-anchor="middle" textLength="17.7" lengthAdjust="spacing">Initial</text>
<text x="240.55" y="404.3" font-size="7.4" fill="#262626" stroke="#262626" stroke-width="0.15" text-anchor="middle" textLength="12.1" lengthAdjust="spacing">End</text>
<text x="279.17" y="404.3" font-size="7.4" fill="#262626" stroke="#262626" stroke-width="0.15" text-anchor="middle" textLength="17.7" lengthAdjust="spacing">Initial</text>
<text x="317.79" y="404.3" font-size="7.4" fill="#262626" stroke="#262626" stroke-width="0.15" text-anchor="middle" textLength="12.1" lengthAdjust="spacing">End</text>
<rect x="102.6" y="413.5" width="4.4" height="4.4" fill="#4472C4"/>
<text x="109.7" y="418.2" font-size="7.8" fill="#333333" stroke="#333333" stroke-width="0.15" textLength="27.8" lengthAdjust="spacingAndGlyphs">0 - 0.2 m</text>
<rect x="145.1" y="413.5" width="4.4" height="4.4" fill="#ED7D31"/>
<text x="152" y="418.2" font-size="7.8" fill="#333333" stroke="#333333" stroke-width="0.15" textLength="34.3" lengthAdjust="spacingAndGlyphs">0.2 - 0.4 m</text>
<rect x="193.9" y="413.5" width="4.4" height="4.4" fill="#A5A5A5"/>
<text x="201" y="418.2" font-size="7.8" fill="#333333" stroke="#333333" stroke-width="0.15" textLength="34.3" lengthAdjust="spacingAndGlyphs">0.4 - 0.6 m</text>
<text transform="translate(7.6 307.2) rotate(-90)" font-size="8.2" fill="#333333" stroke="#333333" stroke-width="0.15" text-anchor="middle" textLength="46.5" lengthAdjust="spacingAndGlyphs">P (mg dm<tspan font-size="5.9" dy="-3">-3</tspan><tspan dy="3">)</tspan></text>
<line x1="401.5" y1="361.27" x2="707.5" y2="361.27" stroke="#E6E6E6" stroke-width="0.75"/>
<line x1="401.5" y1="327.44" x2="707.5" y2="327.44" stroke="#E6E6E6" stroke-width="0.75"/>
<line x1="401.5" y1="293.61" x2="707.5" y2="293.61" stroke="#E6E6E6" stroke-width="0.75"/>
<line x1="401.5" y1="259.78" x2="707.5" y2="259.78" stroke="#E6E6E6" stroke-width="0.75"/>
<line x1="401.5" y1="225.95" x2="707.5" y2="225.95" stroke="#E6E6E6" stroke-width="0.75"/>
<rect x="408.55" y="361.1" width="6.5" height="34" fill="#4472C4"/>
<rect x="417.05" y="363.2" width="6.5" height="31.9" fill="#ED7D31"/>
<rect x="425.55" y="365.8" width="6.5" height="29.3" fill="#A5A5A5"/>
<rect x="446.75" y="351.8" width="6.5" height="43.3" fill="#4472C4"/>
<rect x="455.25" y="372.7" width="6.5" height="22.4" fill="#ED7D31"/>
<rect x="463.75" y="365.8" width="6.5" height="29.3" fill="#A5A5A5"/>
<rect x="484.95" y="358.7" width="6.5" height="36.4" fill="#4472C4"/>
<rect x="493.45" y="370" width="6.5" height="25.1" fill="#ED7D31"/>
<rect x="501.95" y="349.7" width="6.5" height="45.4" fill="#A5A5A5"/>
<rect x="523.15" y="372.2" width="6.5" height="22.9" fill="#4472C4"/>
<rect x="531.65" y="367.9" width="6.5" height="27.2" fill="#ED7D31"/>
<rect x="540.15" y="367.9" width="6.5" height="27.2" fill="#A5A5A5"/>
<rect x="561.35" y="284.7" width="6.5" height="110.4" fill="#4472C4"/>
<rect x="569.85" y="277.8" width="6.5" height="117.3" fill="#ED7D31"/>
<rect x="578.35" y="291.1" width="6.5" height="104" fill="#A5A5A5"/>
<rect x="599.55" y="359" width="6.5" height="36.1" fill="#4472C4"/>
<rect x="608.05" y="343.1" width="6.5" height="52" fill="#ED7D31"/>
<rect x="616.55" y="365.8" width="6.5" height="29.3" fill="#A5A5A5"/>
<rect x="637.75" y="302.4" width="6.5" height="92.7" fill="#4472C4"/>
<rect x="646.25" y="343.2" width="6.5" height="51.9" fill="#ED7D31"/>
<rect x="654.75" y="320.8" width="6.5" height="74.3" fill="#A5A5A5"/>
<rect x="675.95" y="295.8" width="6.5" height="99.3" fill="#4472C4"/>
<rect x="684.45" y="338.5" width="6.5" height="56.6" fill="#ED7D31"/>
<rect x="692.95" y="327" width="6.5" height="68.1" fill="#A5A5A5"/>
<line x1="411.8" y1="330.3" x2="411.8" y2="361.1" stroke="#8C8C8C" stroke-width="0.8"/>
<line x1="410.65" y1="330.3" x2="412.95" y2="330.3" stroke="#8C8C8C" stroke-width="0.8"/>
<text x="411.8" y="371.1" font-size="7.3" fill="#000000" stroke="#000000" stroke-width="0.18" text-anchor="middle">a</text>
<line x1="420.3" y1="353" x2="420.3" y2="363.2" stroke="#8C8C8C" stroke-width="0.8"/>
<line x1="419.15" y1="353" x2="421.45" y2="353" stroke="#8C8C8C" stroke-width="0.8"/>
<text x="420.3" y="373.2" font-size="7.3" fill="#000000" stroke="#000000" stroke-width="0.18" text-anchor="middle">a</text>
<line x1="428.8" y1="351.1" x2="428.8" y2="365.8" stroke="#8C8C8C" stroke-width="0.8"/>
<line x1="427.65" y1="351.1" x2="429.95" y2="351.1" stroke="#8C8C8C" stroke-width="0.8"/>
<text x="428.8" y="375.8" font-size="7.3" fill="#000000" stroke="#000000" stroke-width="0.18" text-anchor="middle">a</text>
<line x1="450" y1="331" x2="450" y2="351.8" stroke="#8C8C8C" stroke-width="0.8"/>
<line x1="448.85" y1="331" x2="451.15" y2="331" stroke="#8C8C8C" stroke-width="0.8"/>
<text x="450" y="361.8" font-size="7.3" fill="#000000" stroke="#000000" stroke-width="0.18" text-anchor="middle">a</text>
<line x1="458.5" y1="365.6" x2="458.5" y2="372.7" stroke="#8C8C8C" stroke-width="0.8"/>
<line x1="457.35" y1="365.6" x2="459.65" y2="365.6" stroke="#8C8C8C" stroke-width="0.8"/>
<text x="458.5" y="382.7" font-size="7.3" fill="#000000" stroke="#000000" stroke-width="0.18" text-anchor="middle">a</text>
<line x1="467" y1="357.3" x2="467" y2="365.8" stroke="#8C8C8C" stroke-width="0.8"/>
<line x1="465.85" y1="357.3" x2="468.15" y2="357.3" stroke="#8C8C8C" stroke-width="0.8"/>
<text x="467" y="375.8" font-size="7.3" fill="#000000" stroke="#000000" stroke-width="0.18" text-anchor="middle">a</text>
<line x1="488.2" y1="348.3" x2="488.2" y2="358.7" stroke="#8C8C8C" stroke-width="0.8"/>
<line x1="487.05" y1="348.3" x2="489.35" y2="348.3" stroke="#8C8C8C" stroke-width="0.8"/>
<text x="488.2" y="368.7" font-size="7.3" fill="#000000" stroke="#000000" stroke-width="0.18" text-anchor="middle">a</text>
<line x1="496.7" y1="359.4" x2="496.7" y2="370" stroke="#8C8C8C" stroke-width="0.8"/>
<line x1="495.55" y1="359.4" x2="497.85" y2="359.4" stroke="#8C8C8C" stroke-width="0.8"/>
<text x="496.7" y="380" font-size="7.3" fill="#000000" stroke="#000000" stroke-width="0.18" text-anchor="middle">a</text>
<line x1="505.2" y1="329.3" x2="505.2" y2="349.7" stroke="#8C8C8C" stroke-width="0.8"/>
<line x1="504.05" y1="329.3" x2="506.35" y2="329.3" stroke="#8C8C8C" stroke-width="0.8"/>
<text x="505.2" y="359.7" font-size="7.3" fill="#000000" stroke="#000000" stroke-width="0.18" text-anchor="middle">a</text>
<line x1="526.4" y1="356.6" x2="526.4" y2="372.2" stroke="#8C8C8C" stroke-width="0.8"/>
<line x1="525.25" y1="356.6" x2="527.55" y2="356.6" stroke="#8C8C8C" stroke-width="0.8"/>
<text x="526.4" y="382.2" font-size="7.3" fill="#000000" stroke="#000000" stroke-width="0.18" text-anchor="middle">a</text>
<line x1="534.9" y1="340.5" x2="534.9" y2="367.9" stroke="#8C8C8C" stroke-width="0.8"/>
<line x1="533.75" y1="340.5" x2="536.05" y2="340.5" stroke="#8C8C8C" stroke-width="0.8"/>
<text x="534.9" y="377.9" font-size="7.3" fill="#000000" stroke="#000000" stroke-width="0.18" text-anchor="middle">a</text>
<line x1="543.4" y1="356.3" x2="543.4" y2="367.9" stroke="#8C8C8C" stroke-width="0.8"/>
<line x1="542.25" y1="356.3" x2="544.55" y2="356.3" stroke="#8C8C8C" stroke-width="0.8"/>
<text x="543.4" y="377.9" font-size="7.3" fill="#000000" stroke="#000000" stroke-width="0.18" text-anchor="middle">a</text>
<line x1="564.6" y1="245.8" x2="564.6" y2="284.7" stroke="#8C8C8C" stroke-width="0.8"/>
<line x1="563.45" y1="245.8" x2="565.75" y2="245.8" stroke="#8C8C8C" stroke-width="0.8"/>
<text x="564.6" y="294.7" font-size="7.3" fill="#000000" stroke="#000000" stroke-width="0.18" text-anchor="middle">a</text>
<line x1="573.1" y1="273.5" x2="573.1" y2="277.8" stroke="#8C8C8C" stroke-width="0.8"/>
<line x1="571.95" y1="273.5" x2="574.25" y2="273.5" stroke="#8C8C8C" stroke-width="0.8"/>
<text x="573.1" y="287.8" font-size="7.3" fill="#000000" stroke="#000000" stroke-width="0.18" text-anchor="middle">a</text>
<line x1="581.6" y1="274.2" x2="581.6" y2="291.1" stroke="#8C8C8C" stroke-width="0.8"/>
<line x1="580.45" y1="274.2" x2="582.75" y2="274.2" stroke="#8C8C8C" stroke-width="0.8"/>
<text x="581.6" y="301.1" font-size="7.3" fill="#000000" stroke="#000000" stroke-width="0.18" text-anchor="middle">a</text>
<line x1="602.8" y1="350.9" x2="602.8" y2="359" stroke="#8C8C8C" stroke-width="0.8"/>
<line x1="601.65" y1="350.9" x2="603.95" y2="350.9" stroke="#8C8C8C" stroke-width="0.8"/>
<text x="602.8" y="369" font-size="7.3" fill="#000000" stroke="#000000" stroke-width="0.18" text-anchor="middle">a</text>
<line x1="611.3" y1="332.9" x2="611.3" y2="343.1" stroke="#8C8C8C" stroke-width="0.8"/>
<line x1="610.15" y1="332.9" x2="612.45" y2="332.9" stroke="#8C8C8C" stroke-width="0.8"/>
<text x="611.3" y="353.1" font-size="7.3" fill="#000000" stroke="#000000" stroke-width="0.18" text-anchor="middle">a</text>
<line x1="619.8" y1="355.2" x2="619.8" y2="365.8" stroke="#8C8C8C" stroke-width="0.8"/>
<line x1="618.65" y1="355.2" x2="620.95" y2="355.2" stroke="#8C8C8C" stroke-width="0.8"/>
<text x="619.8" y="375.8" font-size="7.3" fill="#000000" stroke="#000000" stroke-width="0.18" text-anchor="middle">a</text>
<line x1="641" y1="280.5" x2="641" y2="302.4" stroke="#8C8C8C" stroke-width="0.8"/>
<line x1="639.85" y1="280.5" x2="642.15" y2="280.5" stroke="#8C8C8C" stroke-width="0.8"/>
<text x="641" y="312.4" font-size="7.3" fill="#000000" stroke="#000000" stroke-width="0.18" text-anchor="middle">a</text>
<line x1="649.5" y1="321.2" x2="649.5" y2="343.2" stroke="#8C8C8C" stroke-width="0.8"/>
<line x1="648.35" y1="321.2" x2="650.65" y2="321.2" stroke="#8C8C8C" stroke-width="0.8"/>
<text x="649.5" y="353.2" font-size="7.3" fill="#000000" stroke="#000000" stroke-width="0.18" text-anchor="middle">a</text>
<line x1="658" y1="308.4" x2="658" y2="320.8" stroke="#8C8C8C" stroke-width="0.8"/>
<line x1="656.85" y1="308.4" x2="659.15" y2="308.4" stroke="#8C8C8C" stroke-width="0.8"/>
<text x="658" y="330.8" font-size="7.3" fill="#000000" stroke="#000000" stroke-width="0.18" text-anchor="middle">a</text>
<line x1="679.2" y1="268.1" x2="679.2" y2="295.8" stroke="#8C8C8C" stroke-width="0.8"/>
<line x1="678.05" y1="268.1" x2="680.35" y2="268.1" stroke="#8C8C8C" stroke-width="0.8"/>
<text x="679.2" y="305.8" font-size="7.3" fill="#000000" stroke="#000000" stroke-width="0.18" text-anchor="middle">a</text>
<line x1="687.7" y1="316.5" x2="687.7" y2="338.5" stroke="#8C8C8C" stroke-width="0.8"/>
<line x1="686.55" y1="316.5" x2="688.85" y2="316.5" stroke="#8C8C8C" stroke-width="0.8"/>
<text x="687.7" y="348.5" font-size="7.3" fill="#000000" stroke="#000000" stroke-width="0.18" text-anchor="middle">a</text>
<line x1="696.2" y1="320.4" x2="696.2" y2="327" stroke="#8C8C8C" stroke-width="0.8"/>
<line x1="695.05" y1="320.4" x2="697.35" y2="320.4" stroke="#8C8C8C" stroke-width="0.8"/>
<text x="696.2" y="337" font-size="7.3" fill="#000000" stroke="#000000" stroke-width="0.18" text-anchor="middle">a</text>
<line x1="401.5" y1="225.95" x2="401.5" y2="395.1" stroke="#858585" stroke-width="0.9"/>
<line x1="399" y1="395.1" x2="707.5" y2="395.1" stroke="#ABABAB" stroke-width="0.9"/>
<line x1="399" y1="395.1" x2="401.5" y2="395.1" stroke="#858585" stroke-width="0.9"/>
<text x="394.3" y="397.6" font-size="7.4" fill="#333333" stroke="#333333" stroke-width="0.15" text-anchor="end">0</text>
<line x1="399" y1="361.27" x2="401.5" y2="361.27" stroke="#858585" stroke-width="0.9"/>
<text x="394.3" y="363.77" font-size="7.4" fill="#333333" stroke="#333333" stroke-width="0.15" text-anchor="end">50</text>
<line x1="399" y1="327.44" x2="401.5" y2="327.44" stroke="#858585" stroke-width="0.9"/>
<text x="394.3" y="329.94" font-size="7.4" fill="#333333" stroke="#333333" stroke-width="0.15" text-anchor="end">100</text>
<line x1="399" y1="293.61" x2="401.5" y2="293.61" stroke="#858585" stroke-width="0.9"/>
<text x="394.3" y="296.11" font-size="7.4" fill="#333333" stroke="#333333" stroke-width="0.15" text-anchor="end">150</text>
<line x1="399" y1="259.78" x2="401.5" y2="259.78" stroke="#858585" stroke-width="0.9"/>
<text x="394.3" y="262.28" font-size="7.4" fill="#333333" stroke="#333333" stroke-width="0.15" text-anchor="end">200</text>
<line x1="399" y1="225.95" x2="401.5" y2="225.95" stroke="#858585" stroke-width="0.9"/>
<text x="394.3" y="228.45" font-size="7.4" fill="#333333" stroke="#333333" stroke-width="0.15" text-anchor="end">250</text>
<rect x="404.5" y="232.45" width="69" height="176.9" fill="none" stroke="#505050" stroke-width="1.05"/>
<text x="437.3" y="256.1" font-size="7.3" fill="#1a1a1a" stroke="#1a1a1a" stroke-width="0.15" text-anchor="middle" textLength="14.8" lengthAdjust="spacingAndGlyphs">TWN</text>
<rect x="480.3" y="232.45" width="69.2" height="176.9" fill="none" stroke="#505050" stroke-width="1.05"/>
<text x="514.3" y="256.1" font-size="7.3" fill="#1a1a1a" stroke="#1a1a1a" stroke-width="0.15" text-anchor="middle" textLength="14.3" lengthAdjust="spacingAndGlyphs">TWA</text>
<rect x="556.6" y="232.45" width="68.9" height="176.9" fill="none" stroke="#505050" stroke-width="1.05"/>
<text x="591.5" y="256.2" font-size="7.3" fill="#1a1a1a" stroke="#1a1a1a" stroke-width="0.15" text-anchor="middle" textLength="11.5" lengthAdjust="spacingAndGlyphs">TFN</text>
<rect x="632.7" y="232.45" width="68.7" height="176.9" fill="none" stroke="#505050" stroke-width="1.05"/>
<text x="665.5" y="256.3" font-size="7.3" fill="#1a1a1a" stroke="#1a1a1a" stroke-width="0.15" text-anchor="middle" textLength="11.0" lengthAdjust="spacingAndGlyphs">TFA</text>
<text x="420.3" y="407.6" font-size="7.4" fill="#262626" stroke="#262626" stroke-width="0.15" text-anchor="middle" textLength="17.7" lengthAdjust="spacing">Initial</text>
<text x="458.5" y="407.6" font-size="7.4" fill="#262626" stroke="#262626" stroke-width="0.15" text-anchor="middle" textLength="12.1" lengthAdjust="spacing">End</text>
<text x="496.7" y="407.6" font-size="7.4" fill="#262626" stroke="#262626" stroke-width="0.15" text-anchor="middle" textLength="17.7" lengthAdjust="spacing">Initial</text>
<text x="534.9" y="407.6" font-size="7.4" fill="#262626" stroke="#262626" stroke-width="0.15" text-anchor="middle" textLength="12.1" lengthAdjust="spacing">End</text>
<text x="573.1" y="407.6" font-size="7.4" fill="#262626" stroke="#262626" stroke-width="0.15" text-anchor="middle" textLength="17.7" lengthAdjust="spacing">Initial</text>
<text x="611.3" y="407.6" font-size="7.4" fill="#262626" stroke="#262626" stroke-width="0.15" text-anchor="middle" textLength="12.1" lengthAdjust="spacing">End</text>
<text x="649.5" y="407.6" font-size="7.4" fill="#262626" stroke="#262626" stroke-width="0.15" text-anchor="middle" textLength="17.7" lengthAdjust="spacing">Initial</text>
<text x="687.7" y="407.6" font-size="7.4" fill="#262626" stroke="#262626" stroke-width="0.15" text-anchor="middle" textLength="12.1" lengthAdjust="spacing">End</text>
<rect x="471.8" y="417.1" width="4.4" height="4.4" fill="#4472C4"/>
<text x="478.8" y="421.8" font-size="7.8" fill="#333333" stroke="#333333" stroke-width="0.15" textLength="27.6" lengthAdjust="spacingAndGlyphs">0 - 0.2 m</text>
<rect x="514.6" y="417.1" width="4.4" height="4.4" fill="#ED7D31"/>
<text x="521.6" y="421.8" font-size="7.8" fill="#333333" stroke="#333333" stroke-width="0.15" textLength="33.4" lengthAdjust="spacingAndGlyphs">0.2 - 0.4 m</text>
<rect x="563.3" y="417.1" width="4.4" height="4.4" fill="#A5A5A5"/>
<text x="570.4" y="421.8" font-size="7.8" fill="#333333" stroke="#333333" stroke-width="0.15" textLength="33.7" lengthAdjust="spacingAndGlyphs">0.4 - 0.6 m</text>
<text transform="translate(377.8 310.9) rotate(-90)" font-size="8.2" fill="#333333" stroke="#333333" stroke-width="0.15" text-anchor="middle" textLength="50.8" lengthAdjust="spacingAndGlyphs">Na (mg dm<tspan font-size="5.9" dy="-3">-3</tspan><tspan dy="3">)</tspan></text>
</svg>
</body></html>
